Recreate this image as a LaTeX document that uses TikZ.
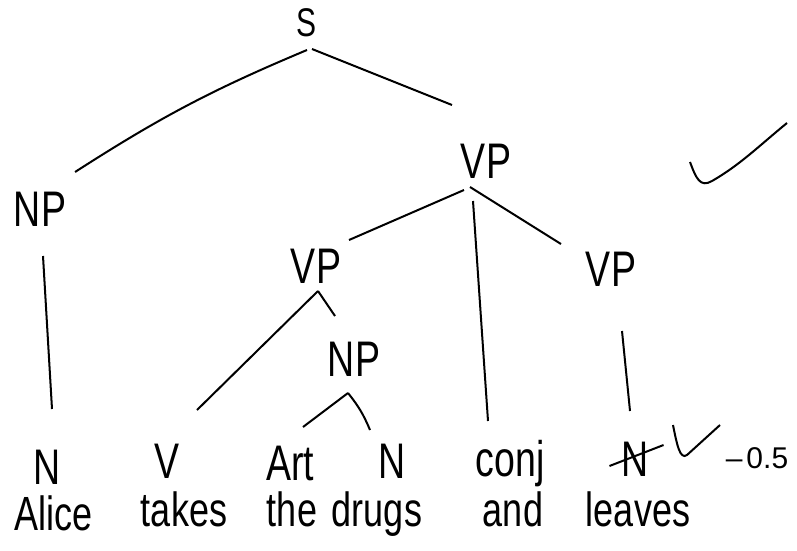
\documentclass[tikz,border=0pt]{standalone}
\usepackage{fontspec}
\setmainfont{Liberation Sans}[FakeStretch=0.75]
\newfontfamily\marknum{Liberation Sans}
\usepackage{tikz}

\begin{document}
\begin{tikzpicture}[x=1pt,y=-1pt,line width=2pt,
  cat/.style={font=\fontsize{50}{54}\selectfont,inner sep=0pt,text height=36pt,text depth=0pt},
  word/.style={font=\fontsize{48}{52}\selectfont,inner sep=0pt,anchor=base}]
\useasboundingbox (0,0) rectangle (797,550);

  \node[cat,font=\fontsize{40}{44}\selectfont,text height=28pt]	(s)	at (307,22)	{S};
  \node[cat]	(np1)	at (40,208)	{NP};
  \node[cat]	(vp1)	at (486,160)	{VP};
  \node[cat]	(vp2)	at (316,265)	{VP};
  \node[cat]	(vp3)	at (611,268)	{VP};
  \node[cat]	(np2)	at (354,358)	{NP};

  \node[cat]	(n1)	at (47,466)	{N};
  \node[cat]	(v1)	at (167,460)	{V};
  \node[cat]	(art)	at (290,462)	{Art};
  \node[cat]	(n2)	at (392,460)	{N};
  \node[cat]	(conj)	at (510,458)	{conj};
  \node[cat]	(n3)	at (635,458)	{N};

  \node[word]	(w1)	at (54,530)	{Alice};
  \node[word]	(w2)	at (184,526)	{takes};
  \node[word]	(w3)	at (292,526)	{the};
  \node[word]	(w4)	at (377,526)	{drugs};
  \node[word]	(w5)	at (513,526)	{and};
  \node[word]	(w6)	at (638,526)	{leaves};

\path
     ([yshift=-13pt]s.south)	edge	[bend right=5]	([xshift=8pt,yshift=17pt]np1.north east)
     ([xshift=5pt,yshift=-12pt]s.south)	edge	([xshift=-8pt,yshift=36pt]vp1.north west)
     ([xshift=3pt,yshift=-29pt]np1.south)	edge	([xshift=5pt,yshift=38pt]n1.north)
     ([xshift=4pt,yshift=-11pt]vp1.south west)	edge	([xshift=7pt,yshift=6pt]vp2.north east)
     ([xshift=-13pt,yshift=-22pt]vp1.south)	edge	([xshift=-22pt,yshift=18pt]conj.north)
     ([xshift=-16pt,yshift=-8pt]vp1.south)	edge	([xshift=-24pt,yshift=5pt]vp3.north west)
     ([xshift=2pt,yshift=-7pt]vp2.south)	edge	([xshift=30pt,yshift=31pt]v1.north)
     ([xshift=2pt,yshift=-7pt]vp2.south)	edge	([xshift=-19pt,yshift=23pt]np2.north)
     ([xshift=11pt,yshift=-44pt]vp3.south)	edge	([xshift=-5pt,yshift=28pt]n3.north)
     ([xshift=-6pt,yshift=-16pt]np2.south)	edge	([xshift=13pt,yshift=16pt]art.north)
     ([xshift=-6pt,yshift=-16pt]np2.south)	edge	[bend left=8]	([xshift=-22pt,yshift=11pt]n2.north)
  ;

  \draw ([xshift=-11pt,yshift=-8pt]n3.west) -- ([xshift=14pt,yshift=13pt]n3.east);
  \draw (673,425) .. controls (677,445) and (680,460) .. (687,455) -- (720,425);
  \node[font=\marknum\fontsize{30}{32}\selectfont,inner sep=0pt]	(mark)	at (757,458)	{\textendash\kern4pt0.5};
  \draw (690,162) .. controls (696,178) and (700,188) .. (712,181) .. controls (740,165) and (760,145) .. (787,123);
\end{tikzpicture}
\end{document}
